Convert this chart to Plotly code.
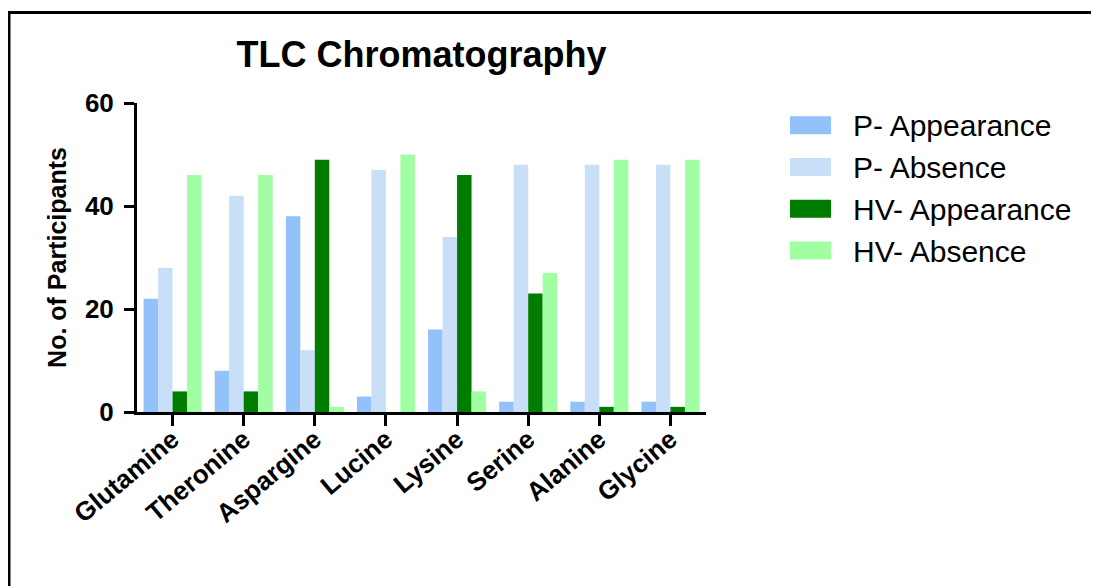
import plotly.graph_objects as go

categories = ["Glutamine", "Theronine", "Aspargine", "Lucine", "Lysine", "Serine", "Alanine", "Glycine"]
p_appearance = [22, 8, 38, 3, 16, 2, 2, 2]
p_absence = [28, 42, 12, 47, 34, 48, 48, 48]
hv_appearance = [4, 4, 49, 0, 46, 23, 1, 1]
hv_absence = [46, 46, 1, 50, 4, 27, 49, 49]

series_names = ["P- Appearance", "P- Absence", "HV- Appearance", "HV- Absence"]
series_values = [p_appearance, p_absence, hv_appearance, hv_absence]
series_colors = ["#93C1F9", "#C9DEF7", "#007D00", "#A2FEA2"]

FONT = "Arial, Liberation Sans, sans-serif"

fig = go.Figure()
for name, vals, col in zip(series_names, series_values, series_colors):
    fig.add_trace(go.Bar(x=categories, y=vals, name=name, marker=dict(color=col, line=dict(width=0))))

# page has an 8px body margin, so figure coordinates = page coordinates - 8
W, H = 1091, 578
L, R, T, B = 129, 393, 95, 174
pw = W - L - R
ph = H - T - B

def px2paper_x(px):
    return (px - L) / pw

def px2paper_y(py):
    return (H - B - py) / ph

fig.update_layout(
    width=W, height=H,
    margin=dict(l=L, r=R, t=T, b=B, autoexpand=False),
    paper_bgcolor="white", plot_bgcolor="white",
    barmode="group", bargap=0.185, bargroupgap=0,
    title=dict(text="TLC Chromatography", x=0.5, xref="paper", xanchor="center",
               y=1 - 46 / H, yref="container", yanchor="middle",
               font=dict(family=FONT, size=36, color="black", weight="bold")),
    font=dict(family=FONT, color="black"),
    legend=dict(x=px2paper_x(761), xanchor="left", y=px2paper_y(90), yanchor="top",
                font=dict(family=FONT, size=30, color="black"),
                tracegroupgap=0, itemwidth=74, bgcolor="rgba(0,0,0,0)"),
    xaxis=dict(range=[-0.5, 7.5], showline=True, linecolor="black", linewidth=3,
               ticks="outside", ticklen=11, tickwidth=3, tickcolor="black",
               tickangle=-40, tickfont=dict(family=FONT, size=26, color="black", weight="bold"),
               ticklabelstandoff=-12, showgrid=False, zeroline=False),
    yaxis=dict(range=[0, 60], showline=True, linecolor="black", linewidth=3,
               ticks="outside", ticklen=10, tickwidth=3, tickcolor="black",
               tickvals=[0, 20, 40, 60], tickfont=dict(family=FONT, size=26, color="black", weight="bold"),
               ticklabelstandoff=5, showgrid=False, zeroline=False,
               title=dict(text="No. of Participants", font=dict(family=FONT, size=25, color="black", weight="bold"),
                          standoff=12)),
)

# wider legend swatches (drawn under the legend's own swatches, same colours)
for i, col in enumerate(series_colors):
    cy = 117.3 + 41.7 * i  # figure px
    fig.add_shape(type="rect", xref="paper", yref="paper", layer="above",
                  x0=px2paper_x(782), x1=px2paper_x(823),
                  y0=px2paper_y(cy - 9), y1=px2paper_y(cy + 9),
                  fillcolor=col, line=dict(width=0))

# outer frame (top and left edges)
fig.add_shape(type="line", xref="paper", yref="paper",
              x0=px2paper_x(-1), x1=px2paper_x(W + 5), y0=px2paper_y(4.5), y1=px2paper_y(4.5),
              line=dict(color="black", width=3))
fig.add_shape(type="line", xref="paper", yref="paper",
              x0=px2paper_x(1), x1=px2paper_x(1), y0=px2paper_y(3), y1=px2paper_y(H + 5),
              line=dict(color="black", width=3))

fig.write_html("out.html")
